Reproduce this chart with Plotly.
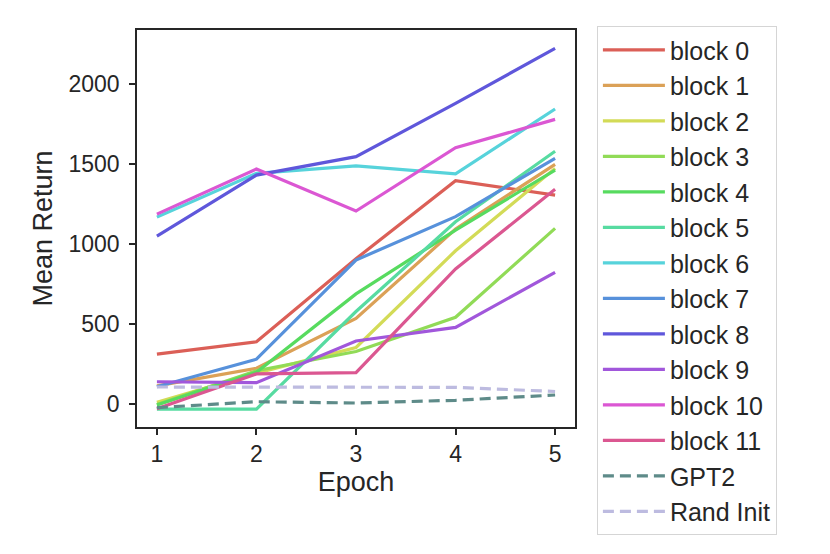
import plotly.graph_objects as go

# mean return per epoch
epochs = [1, 2, 3, 4, 5]
block_0 = [314, 391, 910, 1398, 1308]
block_1 = [115, 225, 537, 1095, 1500]
block_2 = [12, 195, 355, 960, 1475]
block_3 = [-2, 210, 330, 544, 1100]
block_4 = [-5, 200, 690, 1089, 1464]
block_5 = [-30, -30, 580, 1141, 1582]
block_6 = [1170, 1444, 1491, 1440, 1846]
block_7 = [110, 282, 902, 1173, 1538]
block_8 = [1052, 1433, 1548, 1881, 2225]
block_9 = [141, 135, 396, 481, 825]
block_10 = [1189, 1471, 1208, 1604, 1781]
block_11 = [-28, 190, 198, 846, 1344]
gpt2 = [-21, 16, 8, 25, 58]
rand_init = [108, 106, 106, 106, 80]

block_names = ['block %d' % i for i in range(12)]
block_values = [block_0, block_1, block_2, block_3, block_4, block_5,
                block_6, block_7, block_8, block_9, block_10, block_11]

# seaborn hls palette, 12 colours
palette = ['#db5f57', '#dba157', '#d3db57', '#91db57', '#57db5f', '#57dba1',
           '#57d3db', '#5791db', '#5f57db', '#a157db', '#db57d3', '#db5791']

FONT = 'Liberation Sans, Arial, sans-serif'
INK = '#262626'

fig = go.Figure()
for name, vals, col in zip(block_names, block_values, palette):
    fig.add_trace(go.Scatter(x=epochs, y=vals, mode='lines', name=name,
                             line=dict(color=col, width=3.2)))

fig.add_trace(go.Scatter(x=epochs, y=gpt2, mode='lines', name='GPT2',
                         line=dict(color='#5e8b89', width=3.2, dash='11px,6px')))
fig.add_trace(go.Scatter(x=epochs, y=rand_init, mode='lines', name='Rand Init',
                         line=dict(color='#bdbbe0', width=3.2, dash='11px,6px')))

axis_style = dict(showline=True, mirror=True, linecolor=INK, linewidth=1.5,
                  ticks='outside', ticklen=6, tickwidth=1.5, tickcolor=INK,
                  showgrid=False, zeroline=False,
                  tickfont=dict(family=FONT, size=23, color=INK))

# page has an 8px body margin, so margins are trimmed to line up with the reference
fig.update_layout(
    width=830, height=554, autosize=False,
    margin=dict(l=129, r=263, t=22, b=135),
    paper_bgcolor='white', plot_bgcolor='white',
    font=dict(family=FONT, color=INK),
    xaxis=dict(range=[0.8, 5.2], tickvals=epochs,
               title=dict(text='Epoch', font=dict(family=FONT, size=27, color=INK), standoff=6),
               **axis_style),
    yaxis=dict(range=[-142, 2340], tickvals=[0, 500, 1000, 1500, 2000],
               title=dict(text='Mean Return', font=dict(family=FONT, size=27, color=INK), standoff=8),
               ticklabelstandoff=5,
               **axis_style),
    legend=dict(x=1.05, y=1.01, xanchor='left', yanchor='top',
                bordercolor='#d5d5d5', borderwidth=1, bgcolor='white',
                font=dict(family=FONT, size=25, color=INK),
                itemwidth=62, maxheight=1),
)

fig.write_html('out.html')
